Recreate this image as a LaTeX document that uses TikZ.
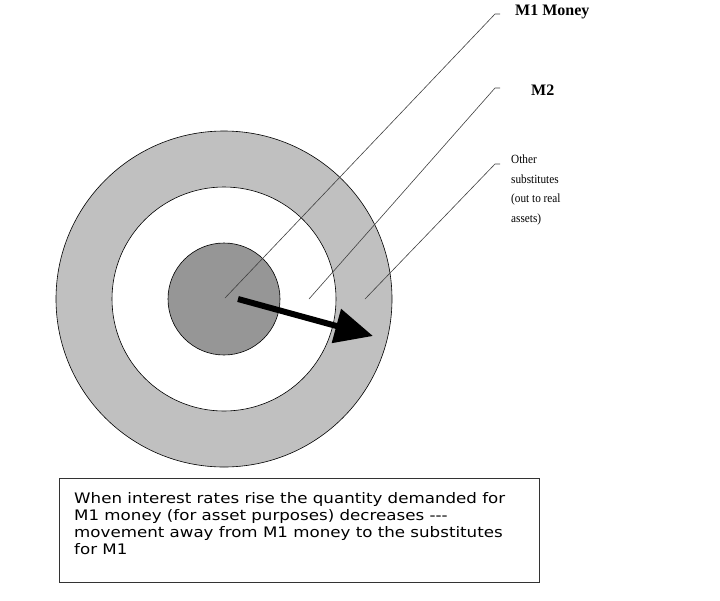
\documentclass[tikz,border=0pt]{standalone}
\usepackage{fontspec}
\setmainfont{Liberation Serif}
\newfontfamily\notefont[FakeStretch=1.15]{DejaVu Sans}
\newfontfamily\sidefont[FakeStretch=0.9]{Liberation Serif}
\usetikzlibrary{arrows.meta,positioning,calc}
\definecolor{ringgray}{RGB}{192,192,192}
\definecolor{coregray}{RGB}{150,150,150}

\begin{document}
\begin{tikzpicture}[x=1pt,y=-1pt,
    ring/.style={circle,draw=black,line width=0.6pt,inner sep=0pt},
    leader/.style={draw=black!75,line width=0.6pt},
    tag/.style={anchor=base west,inner sep=0pt,font=\fontsize{16}{18}\selectfont\bfseries}]
    \useasboundingbox (0,0) rectangle (720,600);

    % money rings around one centre
    \coordinate (c) at (224,299);
    \node[ring,fill=ringgray,minimum size=336pt] (outer) at (c) {};
    \node[ring,fill=white,minimum size=224pt] (mid) at (c) {};
    \node[ring,fill=coregray,minimum size=112pt] (core) at (c) {};

    % labels on the right
    \node[tag] (m1) at (515,15) {M1 Money};
    \node[tag] (m2) at (531,95) {M2};
    \node[anchor=north west,inner sep=0pt,align=left,
        font=\sidefont\fontsize{12.5}{19.7}\selectfont] (other) at (511,154.5)
        {Other\\substitutes\\(out to real\\assets)};

    % leader lines
    \coordinate (p1) at (225,298);
    \coordinate (p2) at (309,299);
    \coordinate (p3) at (365,299);
    \draw[leader] (p1) -- (495,14) -- (500,14);
    \draw[leader] (p2) -- (495,88) -- (500,88);
    \draw[leader] (p3) -- (495,164) -- (500,164);

    % movement out of M1
    \coordinate (a0) at (238,299);
    \coordinate (a1) at (373,336);
    \draw[line width=6pt,-{Triangle[length=38pt,width=34pt]}] (a0) -- (a1);

    % note box
    \node[draw=black!80,line width=0.6pt,anchor=north west,inner sep=0pt,
        minimum width=480pt,minimum height=104pt] (note) at (59,478) {};
    \node[anchor=north west,inner sep=0pt,align=left,
        font=\notefont\fontsize{14.5}{17.2}\selectfont] (notetext)
        at ($(note.north west)+(15,14)$)
        {When interest rates rise the quantity demanded for\\
        M1 money (for asset purposes) decreases ---\\
        movement away from M1 money to the substitutes\\
        for M1};
\end{tikzpicture}
\end{document}
